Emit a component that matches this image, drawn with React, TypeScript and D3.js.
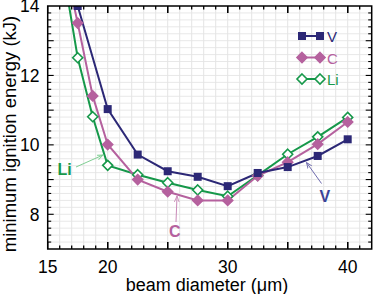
import React from "react";
import * as d3 from "d3";

// beam diameter (um)
const diamV = [17.5, 20, 22.5, 25, 27.5, 30, 32.5, 35, 37.5, 40];
const energyV = [14.0, 11.03, 9.72, 9.24, 9.08, 8.81, 9.19, 9.36, 9.68, 10.16];

const diamC = [16.25, 17.5, 18.75, 20, 22.5, 25, 27.5, 30, 32.5, 35, 37.5, 40];
const energyC = [15.5, 13.51, 11.41, 10.01, 9.0, 8.65, 8.4, 8.4, 9.11, 9.5, 10.02, 10.66];

const diamLi = [16.25, 17.5, 18.75, 20, 22.5, 25, 27.5, 30, 32.5, 35, 37.5, 40];
const energyLi = [15.1, 12.51, 10.81, 9.41, 9.14, 8.91, 8.7, 8.52, 9.12, 9.73, 10.23, 10.79];

const xTicks = [15, 20, 25, 30, 35, 40];
const xTickLabels = ["15", "20", "", "30", "", "40"];
const yTicks = [8, 10, 12, 14];

const colV = "#2c2876";
const colC = "#b5619e";
const colLi = "#16984a";

function App() {
  const width = 374;
  const height = 294;
  const left = 47.7;
  const right = 371.7;
  const top = 6;
  const bottom = 249;

  const x = d3.scaleLinear().domain([15, 42]).range([left, right]);
  const y = d3.scaleLinear().domain([7, 14]).range([bottom, top]);

  const line = d3
    .line<[number, number]>()
    .x((d) => x(d[0]))
    .y((d) => y(d[1]));

  const ptsV = diamV.map((d, i) => [d, energyV[i]] as [number, number]);
  const ptsC = diamC.map((d, i) => [d, energyC[i]] as [number, number]);
  const ptsLi = diamLi.map((d, i) => [d, energyLi[i]] as [number, number]);

  const minorX = d3.range(16, 42, 1);
  const minorY = d3.range(7.2, 14, 0.2);
  const font = "Liberation Sans, Arial, sans-serif";

  const square = (cx: number, cy: number, s: number, c: string, k: string) => (
    <rect key={k} x={cx - s / 2} y={cy - s / 2} width={s} height={s} fill={c} />
  );
  const diamond = (cx: number, cy: number, r: number, fill: string, stroke: string, k: string) => (
    <path
      key={k}
      d={`M${cx},${cy - r}L${cx + r},${cy}L${cx},${cy + r}L${cx - r},${cy}Z`}
      fill={fill}
      stroke={stroke}
      strokeWidth={1.6}
    />
  );

  return (
    <svg
      width={width}
      height={height}
      style={{ position: "absolute", left: 0, top: 0 }}
      fontFamily={font}
    >
      <defs>
        <clipPath id="plot">
          <rect x={left} y={top} width={right - left} height={bottom - top} />
        </clipPath>
        <marker id="ah" viewBox="0 0 10 10" refX="10" refY="5" markerWidth="6" markerHeight="6" orient="auto">
          <path d="M0,1L10,5L0,9" fill="none" stroke="context-stroke" strokeWidth={1.5} />
        </marker>
      </defs>
      <rect x={0} y={0} width={width} height={height} fill="#fff" />

      {/* grid */}
      {minorY.map((v) => (
        <line key={"gy" + v} x1={left} x2={right} y1={y(v)} y2={y(v)} stroke="#e8e8e8" strokeWidth={1} />
      ))}
      {minorX.map((v) => (
        <line key={"gx" + v} x1={x(v)} x2={x(v)} y1={top} y2={bottom} stroke="#e4e4e4" strokeWidth={1} />
      ))}

      {/* series */}
      <g clipPath="url(#plot)">
        <path d={line(ptsLi) || ""} fill="none" stroke={colLi} strokeWidth={2} />
        <path d={line(ptsC) || ""} fill="none" stroke={colC} strokeWidth={2} />
        <path d={line(ptsV) || ""} fill="none" stroke={colV} strokeWidth={2} />
        {ptsLi.map((d, i) => diamond(x(d[0]), y(d[1]), 5, "#fff", colLi, "li" + i))}
        {ptsC.map((d, i) => diamond(x(d[0]), y(d[1]), 5, colC, colC, "c" + i))}
        {ptsV.map((d, i) => square(x(d[0]), y(d[1]), 8, colV, "v" + i))}
      </g>

      {/* frame and ticks */}
      <rect x={left} y={top} width={right - left} height={bottom - top} fill="none" stroke="#000" strokeWidth={1.5} />
      {minorX.concat(xTicks).map((v, i) => {
        const major = xTicks.includes(v);
        const len = major ? 7 : v % 2.5 === 0 ? 5 : 3.5;
        return (
          <g key={"tx" + i}>
            <line x1={x(v)} x2={x(v)} y1={bottom} y2={bottom - len} stroke="#000" strokeWidth={1.3} />
            <line x1={x(v)} x2={x(v)} y1={top} y2={top + len} stroke="#000" strokeWidth={1.3} />
          </g>
        );
      })}
      {minorY.map((v, i) => {
        const r = Math.round(v * 10) / 10;
        const len = Math.abs(r - Math.round(r)) < 0.01 ? 6 : 3.5;
        return (
          <g key={"ty" + i}>
            <line x1={left} x2={left + len} y1={y(v)} y2={y(v)} stroke="#000" strokeWidth={1.1} />
            <line x1={right} x2={right - len} y1={y(v)} y2={y(v)} stroke="#000" strokeWidth={1.1} />
          </g>
        );
      })}

      {/* tick labels */}
      {xTicks.map((v, i) => (
        <text key={"xl" + v} x={x(v)} y={272.5} textAnchor="middle" fontSize={17.5} fill="#000">
          {xTickLabels[i]}
        </text>
      ))}
      {yTicks.map((v) => (
        <text key={"yl" + v} x={39.5} y={y(v) + 6.3} textAnchor="end" fontSize={17.5} fill="#000">
          {v}
        </text>
      ))}

      {/* axis titles */}
      <text x={207} y={291} textAnchor="middle" fontSize={18} fill="#000">
        beam diameter (μm)
      </text>
      <text
        transform={`translate(16,${134}) rotate(-90)`}
        textAnchor="middle"
        fontSize={18.5}
        fill="#000"
      >
        minimum ignition energy (kJ)
      </text>

      {/* legend */}
      <line x1={302} x2={320} y1={36} y2={36} stroke={colV} strokeWidth={2} />
      {square(302, 36, 8, colV, "lv1")}
      {square(320, 36, 8, colV, "lv2")}
      <text x={327} y={42} fontSize={15} fill={colV}>V</text>
      <line x1={302} x2={320} y1={57.5} y2={57.5} stroke={colC} strokeWidth={2} />
      {diamond(302, 57.5, 5, colC, colC, "lc1")}
      {diamond(320, 57.5, 5, colC, colC, "lc2")}
      <text x={327} y={63.5} fontSize={15} fill={colC}>C</text>
      <line x1={302} x2={320} y1={79} y2={79} stroke={colLi} strokeWidth={2} />
      {diamond(302, 79, 5, "#fff", colLi, "ll1")}
      {diamond(320, 79, 5, "#fff", colLi, "ll2")}
      <text x={327} y={84.5} fontSize={15} fill={colLi}>Li</text>

      {/* annotations */}
      <line x1={76} y1={167} x2={103} y2={155} stroke="#7fcf93" strokeWidth={1} markerEnd="url(#ah)" />
      <text x={57.5} y={174.5} fontSize={16} fontWeight="bold" fill={colLi}>Li</text>
      <line x1={176} y1={222} x2={177} y2={196} stroke="#c98ab8" strokeWidth={1} markerEnd="url(#ah)" />
      <text x={169} y={236.5} fontSize={16} fontWeight="bold" fill={colC}>C</text>
      <line x1={321.5} y1={183.5} x2={306.5} y2={162.5} stroke="#6f6cae" strokeWidth={1} markerEnd="url(#ah)" />
      <text x={319.5} y={201.5} fontSize={16} fontWeight="bold" fill="#3a4398">V</text>
    </svg>
  );
}

export default App;
